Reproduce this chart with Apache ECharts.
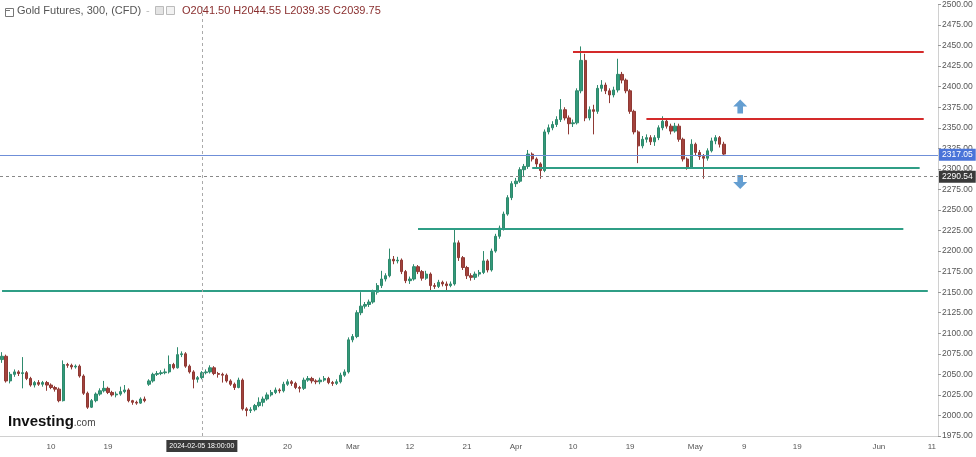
<!DOCTYPE html>
<html>
<head>
<meta charset="utf-8">
<script src="https://cdn.jsdelivr.net/npm/echarts@6/dist/echarts.min.js"></script>
<style>
html,body{margin:0;padding:0;background:#fff;}
#myChart{width:976px;height:457px;}
</style>
</head>
<body>
<div id="myChart"></div>
<script>
// trading calendar (two 12h slots per trading day)
var startDay = '2024-01-02';
var dayCount = 115;
var holidays = ['2024-03-29'];

// x axis tick labels, keyed by slot
var xTicks = {
	'2024-01-10 00:00':'10', '2024-01-19 00:00':'19', '2024-02-20 00:00':'20',
	'2024-03-01 00:00':'Mar', '2024-03-12 00:00':'12', '2024-03-21 00:00':'21',
	'2024-04-01 00:00':'Apr', '2024-04-10 00:00':'10', '2024-04-19 00:00':'19',
	'2024-05-01 00:00':'May', '2024-05-09 00:00':'9', '2024-05-17 12:00':'19',
	'2024-05-31 12:00':'Jun', '2024-06-11 00:00':'11'
};

// candles: [open, close, low, high]
var candles = [
	[2068,2072,2064,2077],[2072,2042,2040,2074],[2042,2050,2039,2053],[2050,2053,2047,2056],
	[2053,2051,2048,2055],[2051,2052,2033,2071],[2052,2045,2043,2054],[2045,2037,2035,2047],
	[2037,2040,2034,2042],[2040,2038,2036,2043],[2038,2040,2035,2042],[2040,2037,2030,2042],
	[2037,2034,2032,2039],[2034,2032,2029,2036],[2032,2018,2016,2034],[2018,2062,2017,2067],
	[2062,2061,2058,2064],[2061,2059,2056,2063],[2059,2060,2057,2062],[2060,2048,2046,2062],
	[2048,2027,2025,2050],[2027,2010,2008,2029],[2010,2018,2009,2020],[2018,2026,2016,2028],
	[2026,2030,2024,2033],[2030,2033,2028,2042],[2033,2028,2026,2035],[2028,2025,2023,2030],
	[2025,2026,2022,2029],[2026,2029,2024,2035],[2029,2031,2027,2037],[2031,2018,2016,2033],
	[2018,2016,2013,2019],[2016,2015,2013,2018],[2015,2020,2014,2022],[2020,2018,2016,2023],
	[2038,2042,2036,2044],[2042,2050,2040,2052],[2050,2051,2048,2054],[2051,2052,2049,2055],
	[2052,2053,2050,2057],[2053,2062,2051,2073],[2062,2058,2056,2064],[2058,2074,2057,2083],
	[2074,2075,2071,2078],[2075,2060,2058,2077],[2060,2053,2051,2062],[2053,2044,2033,2055],
	[2044,2046,2040,2048],[2046,2052,2044,2054],[2052,2053,2050,2056],[2053,2058,2051,2061],
	[2058,2051,2049,2060],[2051,2050,2046,2053],[2050,2049,2040,2052],[2049,2042,2040,2051],
	[2042,2038,2036,2044],[2038,2034,2031,2040],[2034,2043,2033,2046],[2043,2008,2006,2045],
	[2008,2006,1999,2010],[2006,2007,2003,2010],[2007,2012,2005,2014],[2012,2016,2010,2022],
	[2016,2020,2011,2023],[2020,2025,2018,2028],[2025,2028,2023,2031],[2028,2031,2026,2034],
	[2031,2030,2027,2033],[2030,2038,2028,2041],[2038,2041,2036,2044],[2041,2039,2036,2043],
	[2039,2034,2032,2041],[2034,2033,2028,2036],[2033,2043,2031,2046],[2043,2045,2041,2048],
	[2045,2042,2039,2047],[2042,2041,2038,2044],[2041,2043,2038,2046],[2043,2045,2041,2048],
	[2045,2040,2038,2047],[2040,2039,2036,2042],[2039,2041,2037,2044],[2041,2049,2039,2052],
	[2049,2053,2047,2056],[2053,2092,2051,2095],[2092,2096,2089,2099],[2096,2125,2094,2128],
	[2125,2133,2122,2150],[2133,2135,2130,2138],[2135,2138,2132,2141],[2138,2150,2136,2153],
	[2150,2158,2147,2161],[2158,2166,2155,2176],[2166,2170,2163,2173],[2170,2190,2168,2203],
	[2190,2188,2184,2194],[2188,2189,2185,2193],[2189,2175,2172,2191],[2175,2164,2161,2177],
	[2164,2166,2160,2169],[2166,2181,2164,2184],[2181,2175,2172,2183],[2175,2167,2164,2177],
	[2167,2172,2165,2176],[2172,2158,2152,2174],[2158,2157,2154,2161],[2157,2162,2155,2165],
	[2162,2160,2157,2164],[2160,2158,2152,2163],[2158,2160,2156,2163],[2160,2210,2158,2226],
	[2210,2192,2188,2213],[2192,2180,2177,2194],[2180,2170,2166,2182],[2170,2168,2164,2173],
	[2168,2172,2165,2175],[2172,2174,2169,2177],[2174,2188,2172,2200],[2188,2177,2174,2190],
	[2177,2200,2175,2203],[2200,2218,2198,2221],[2218,2228,2215,2231],[2228,2245,2225,2248],
	[2245,2265,2243,2268],[2265,2282,2262,2285],[2282,2285,2278,2289],[2285,2299,2283,2302],
	[2299,2303,2290,2306],[2303,2318,2300,2323],[2318,2312,2309,2320],[2312,2306,2302,2314],
	[2306,2298,2288,2308],[2298,2345,2296,2348],[2345,2350,2342,2354],[2350,2354,2347,2358],
	[2354,2360,2351,2364],[2360,2372,2357,2385],[2372,2362,2359,2375],[2362,2355,2342,2365],
	[2355,2356,2351,2360],[2356,2395,2354,2398],[2395,2432,2392,2449],[2432,2362,2358,2440],
	[2362,2372,2359,2376],[2372,2370,2342,2378],[2370,2398,2367,2402],[2398,2402,2394,2408],
	[2402,2395,2391,2405],[2395,2390,2380,2398],[2390,2396,2387,2400],[2396,2415,2393,2434],
	[2415,2408,2404,2418],[2408,2395,2392,2410],[2395,2370,2367,2397],[2370,2345,2342,2372],
	[2345,2328,2307,2347],[2328,2336,2325,2340],[2336,2338,2332,2342],[2338,2333,2329,2341],
	[2333,2338,2328,2341],[2338,2350,2335,2353],[2350,2358,2347,2364],[2358,2352,2349,2361],
	[2352,2346,2342,2355],[2346,2352,2344,2356],[2352,2336,2333,2355],[2336,2312,2309,2338],
	[2312,2302,2299,2314],[2302,2330,2300,2336],[2330,2320,2316,2332],[2320,2315,2311,2323],
	[2315,2313,2288,2318],[2313,2322,2310,2325],[2322,2334,2320,2338],[2334,2338,2330,2341],
	[2338,2330,2326,2340],[2330,2318,2316,2333]
];

// drawn levels
var levelFrom  = ['2024-04-10 00:00','2024-04-23 00:00','2024-04-03 00:00','2024-03-13 00:00','2024-01-02 00:00'];
var levelTo    = ['2024-06-10 00:00','2024-06-10 00:00','2024-06-07 12:00','2024-06-05 12:00','2024-06-10 12:00'];
var levelPrice = [2442, 2361.5, 2301.5, 2227, 2152];
var levelColor = ['#d42a2a','#d42a2a','#2f9e86','#2f9e86','#2f9e86'];

var lastPrice = 2317.05;
var crossPrice = 2290.54;
var crossSlot = '2024-02-05 12:00';
var crossText = '2024-02-05 18:00:00';

var arrowSlot = ['2024-05-08 12:00','2024-05-08 12:00'];
var arrowPrice = [2376, 2284];
var arrowDir = ['up','down'];

var ohlcText = 'O2041.50 H2044.55 L2039.35 C2039.75';

// build slots
var categories = [];
(function(){
	var d = new Date(startDay + 'T00:00:00Z'), n = 0;
	while (n < dayCount) {
		var s = d.toISOString().slice(0,10), wd = d.getUTCDay();
		if (wd !== 0 && wd !== 6 && holidays.indexOf(s) < 0) {
			categories.push(s + ' 00:00', s + ' 12:00');
			n++;
		}
		d.setUTCDate(d.getUTCDate() + 1);
	}
})();

var markData = [];
for (var i = 0; i < levelPrice.length; i++) {
	markData.push([
		{coord:[levelFrom[i], levelPrice[i]], lineStyle:{color:levelColor[i], width:2, type:'solid'}},
		{coord:[levelTo[i], levelPrice[i]]}
	]);
}
markData.push({yAxis:lastPrice, lineStyle:{color:'#6f8fd8', width:1, type:'solid'},
	label:{show:true, position:'end', formatter:lastPrice.toFixed(2), color:'#fff', backgroundColor:'#4a74d9',
		padding:[2,3,1,3], fontSize:8.5, distance:1}});
markData.push({yAxis:crossPrice, lineStyle:{color:'#888', width:1, type:[3,3]},
	label:{show:true, position:'end', formatter:crossPrice.toFixed(2), color:'#fff', backgroundColor:'#3a3a3a',
		padding:[2,3,1,3], fontSize:8.5, distance:1}});
markData.push({xAxis:crossSlot, lineStyle:{color:'#aaa', width:1, type:[3,3]},
	label:{show:true, position:'start', formatter:crossText, color:'#fff', backgroundColor:'#3a3a3a',
		padding:[3,3,2,3], fontSize:7, distance:4}});

var upArrow = 'path://M5,0 L10,5.5 L7,5.5 L7,11 L3,11 L3,5.5 L0,5.5 Z';
var arrowData = arrowSlot.map(function(s, i){
	return {value:[s, arrowPrice[i]], symbolRotate: arrowDir[i] === 'up' ? 0 : 180};
});

var option = {
	animation:false,
	backgroundColor:'#fff',
	grid:{left:-2, right:38, top:3, bottom:21},
	xAxis:{
		type:'category',
		data:categories,
		boundaryGap:true,
		axisLine:{show:true, lineStyle:{color:'#d0d0d0'}},
		axisTick:{show:false},
		splitLine:{show:false},
		axisLabel:{
			interval:function(idx, val){ return xTicks.hasOwnProperty(val); },
			formatter:function(val){ return xTicks[val] || ''; },
			color:'#555', fontSize:8, margin:7, fontFamily:'Liberation Sans'
		}
	},
	yAxis:{
		type:'value',
		position:'right',
		min:1975, max:2500, interval:25,
		scale:true,
		axisLine:{show:true, lineStyle:{color:'#d0d0d0'}},
		axisTick:{show:true, length:3, lineStyle:{color:'#999'}},
		splitLine:{show:false},
		axisLabel:{
			formatter:function(v){ return v.toFixed(2); },
			color:'#555', fontSize:8.5, margin:4, fontFamily:'Liberation Sans'
		}
	},
	series:[{
		type:'candlestick',
		data:candles,
		barWidth:'70%',
		itemStyle:{
			color:'#33997a', color0:'#a3423c',
			borderColor:'#2e8a6d', borderColor0:'#8f3934', borderWidth:1
		},
		markLine:{
			silent:true,
			symbol:['none','none'],
			animation:false,
			label:{show:false},
			data:markData
		}
	},{
		type:'scatter',
		data:arrowData,
		symbol:upArrow,
		symbolSize:[14,14],
		itemStyle:{color:'#3d86c6'},
		silent:true
	}],
	graphic:[
		{type:'rect', left:3, top:6, shape:{width:8, height:8}, style:{fill:'none', stroke:'#777', lineWidth:1}},
		{type:'line', shape:{x1:5, y1:10.5, x2:10, y2:10.5}, style:{stroke:'#777', lineWidth:1}},
		{type:'text', left:17, top:5, style:{text:'Gold Futures, 300, (CFD)', fill:'#555', font:'11px Liberation Sans'}},
		{type:'text', left:146, top:5, style:{text:'-', fill:'#bbb', font:'11px Liberation Sans'}},
		{type:'rect', left:155, top:6, shape:{width:8, height:8}, style:{fill:'#e4e4e4', stroke:'#bbb', lineWidth:1}},
		{type:'rect', left:166, top:6, shape:{width:8, height:8}, style:{fill:'#f2f2f2', stroke:'#bbb', lineWidth:1}},
		{type:'text', left:182, top:5, style:{text:ohlcText, fill:'#8a2f2f', font:'11px Liberation Sans'}},
		{type:'text', left:8, top:414, style:{
			text:'{a|Investing}{b|.com}',
			rich:{
				a:{font:'bold 15px Liberation Sans', fill:'#111'},
				b:{font:'10px Liberation Sans', fill:'#444', padding:[4,0,0,0]}
			}
		}}
	]
};
echarts.init(document.getElementById('myChart')).setOption(option);
</script>
</body>
</html>
